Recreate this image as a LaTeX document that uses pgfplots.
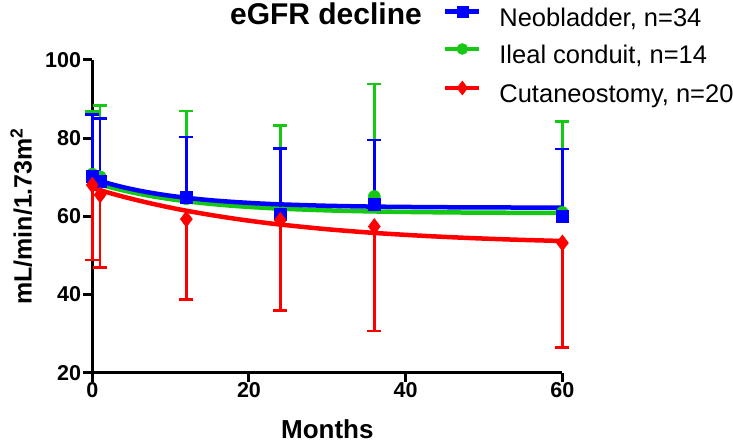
\documentclass[border=0pt]{standalone}
\usepackage{fontspec}
\setmainfont{Liberation Sans}
\usepackage{pgfplots}
\pgfplotsset{compat=1.18}
\definecolor{pblue}{RGB}{0,0,255}
\definecolor{pgreen}{RGB}{20,200,20}
\definecolor{pred}{RGB}{255,0,0}

\pgfplotsset{
  neo/.style={pblue, mark=square*, mark size=6pt,
    mark options={solid, fill=pblue, draw=pblue, line width=0.5pt}},
  ilc/.style={pgreen, mark=*, mark size=6pt,
    mark options={solid, fill=pgreen, draw=pgreen, line width=0.5pt}},
  cut/.style={pred, mark=diamond*, mark size=8pt,
    mark options={solid, fill=pred, draw=pred, line width=0.5pt}},
  ebar/.style={error bars/.cd, y explicit, y dir=#1,
    error bar style={line width=2.5pt},
    error mark options={rotate=90, mark size=7pt, line width=2.5pt}},
  fit/.style={#1, line width=4.5pt, smooth, no marks},
}

\begin{document}
\begin{tikzpicture}
\useasboundingbox (-92.3pt,-70.3pt) rectangle (640.7pt,372.7pt);
\begin{axis}[
  scale only axis,
  width=470.1pt, height=312.7pt,
  xmin=0, xmax=60, ymin=20, ymax=100,
  clip=false,
  axis x line*=bottom, axis y line*=left,
  axis line style={line width=3pt, -},
  xtick={0,20,40,60}, ytick={20,40,60,80,100},
  tick align=outside,
  major tick length=9pt,
  every tick/.style={black, line width=3pt},
  /pgf/number format/assume math mode=true,
  tick label style={font=\fontsize{21.5}{21.5}\selectfont\bfseries},
  yticklabel style={inner sep=2pt},
  xticklabel style={inner sep=1pt},
  xlabel={Months},
  ylabel={mL/min/1.73m\textsuperscript{2}},
  every axis x label/.style={at={(axis description cs:0.5,-0.212)}, anchor=base,
    font=\fontsize{26}{26}\selectfont\bfseries},
  every axis y label/.style={at={(axis description cs:-0.151,0.5)}, rotate=90, anchor=center,
    font=\fontsize{25}{25}\selectfont\bfseries},
  title={eGFR decline},
  every axis title/.style={at={(axis description cs:0.497,1.112)}, anchor=base,
    font=\fontsize{30}{30}\selectfont\bfseries},
  legend cell align=left,
  legend style={at={(axis description cs:0.746,1.1727)}, anchor=north west,
    draw=none, fill=none, inner sep=0pt, outer sep=0pt,
    row sep=11pt, column sep=17.7pt,
    font=\fontsize{25.5}{25.5}\selectfont,
    nodes={inner sep=0pt, text height=19pt, text depth=6pt}},
  legend image code/.code={
    \draw[mark repeat=2, mark phase=2, line width=4.7pt]
      plot coordinates {(0pt,8.5pt) (17pt,8.5pt) (34pt,8.5pt)};},
]
% legend entries in the reference order
\addlegendimage{neo, mark size=5.5pt}
\addlegendentry{Neobladder, n=34}
\addlegendimage{ilc, mark size=5.5pt}
\addlegendentry{Ileal conduit, n=14}
\addlegendimage{cut, mark size=7pt}
\addlegendentry{Cutaneostomy, n=20}

% Ileal conduit (mean, +SD)
\addplot[ilc, only marks, forget plot, ebar=plus] coordinates {
  (0,70.8) +- (0,16.0)
  (1,70.1) +- (0,18.2)
  (12,64.5) +- (0,22.5)
  (24,60.8) +- (0,22.4)
  (36,65.1) +- (0,28.7)
  (60,61.0) +- (0,23.3)
};
\addplot[fit=pgreen, forget plot] coordinates {
  (0,68.80) (2,67.62) (4,66.61) (6,65.75) (8,65.02) (10,64.39) (12,63.86)
  (15,63.21) (18,62.69) (21,62.29) (24,61.97) (30,61.53) (36,61.25)
  (42,61.08) (48,60.97) (54,60.91) (60,60.87)
};

% Neobladder (mean, +SD)
\addplot[neo, only marks, forget plot, ebar=plus] coordinates {
  (0,70.3) +- (0,15.8)
  (1,69.0) +- (0,16.0)
  (12,65.0) +- (0,15.3)
  (24,60.5) +- (0,16.9)
  (36,63.2) +- (0,16.3)
  (60,60.1) +- (0,17.1)
};
\addplot[fit=pblue, forget plot] coordinates {
  (0,69.70) (2,68.46) (4,67.43) (6,66.57) (8,65.85) (10,65.25) (12,64.75)
  (15,64.14) (18,63.69) (21,63.33) (24,63.06) (30,62.70) (36,62.49)
  (42,62.37) (48,62.30) (54,62.26) (60,62.23)
};

% Cutaneostomy (mean, -SD)
\addplot[cut, only marks, forget plot, ebar=minus] coordinates {
  (0,68.0) +- (0,19.2)
  (1,65.5) +- (0,18.6)
  (12,59.3) +- (0,20.6)
  (24,59.0) +- (0,23.1)
  (36,57.4) +- (0,26.7)
  (60,53.2) +- (0,26.8)
};
\addplot[fit=pred, forget plot] coordinates {
  (0,67.30) (2,66.10) (4,65.00) (6,64.00) (8,63.08) (10,62.22) (12,61.44)
  (15,60.39) (18,59.45) (21,58.62) (24,57.90) (30,56.70) (36,55.76)
  (42,55.04) (48,54.47) (54,54.03) (60,53.69)
};
\end{axis}
\end{tikzpicture}
\end{document}
